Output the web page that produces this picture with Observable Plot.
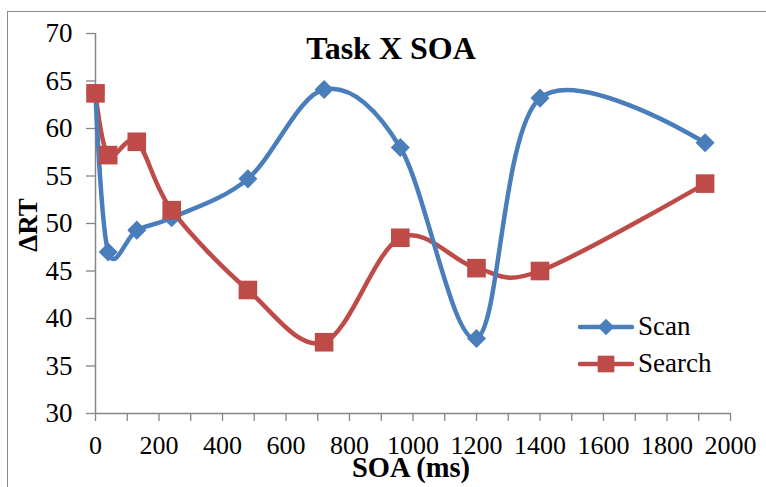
<!DOCTYPE html>
<html>
<head>
<meta charset="utf-8">
<script src="https://cdn.jsdelivr.net/npm/d3@7"></script>
<script src="https://cdn.jsdelivr.net/npm/@observablehq/plot@0.6"></script>
<style>
  html, body { margin: 0; padding: 0; background: #fff; }
  body { width: 766px; height: 487px; overflow: hidden; position: relative; font-family: "Liberation Serif", "Times New Roman", serif; }
  #frame { position: absolute; left: 7px; top: 11px; width: 820px; height: 520px; border: 1.5px solid #8a8a8a; box-sizing: border-box; }
  #chart { position: absolute; left: 0; top: 0; }
  .title { position: absolute; left: 391px; top: 30px; transform: translateX(-50%); font-weight: bold; font-size: 32px; white-space: nowrap; line-height: 1.15; }
  .ylabel { position: absolute; left: 28px; top: 225px; transform: translate(-50%, -50%) rotate(-90deg); font-weight: bold; font-size: 27px; white-space: nowrap; }
  .xlabel { position: absolute; left: 411px; top: 461px; transform: translateX(-50%); font-weight: bold; font-size: 28.5px; white-space: nowrap; line-height: 0.5; }
  #legend { position: absolute; left: 578px; top: 308px; }
  .leg-row { display: flex; align-items: center; height: 37px; font-size: 27px; }
  .leg-row svg { margin-right: 4px; }
</style>
</head>
<body>
<div id="frame"></div>
<div id="chart"></div>
<div class="title">Task X SOA</div>
<div class="ylabel">ΔRT</div>
<div class="xlabel">SOA (ms)</div>
<div id="legend"></div>
<script>
const soa = [0, 40, 130, 240, 480, 720, 960, 1200, 1400, 1920];
const scan = [63.6, 47.0, 49.3, 50.6, 54.7, 64.1, 58.0, 37.9, 63.2, 58.5];
const search = [63.7, 57.2, 58.6, 51.4, 43.0, 37.5, 48.5, 45.3, 45.0, 54.2];
const seriesNames = ["Scan", "Search"];
const seriesColors = ["#4A7EBB", "#BE4B48"];
const xTicks = [0, 200, 400, 600, 800, 1000, 1200, 1400, 1600, 1800, 2000];
const xMinorTicks = [100, 300, 500, 700, 900, 1100, 1300, 1500, 1700, 1900];
const yTicks = [30, 35, 40, 45, 50, 55, 60, 65, 70];

const scanData = soa.map((s, i) => ({soa: s, v: scan[i]}));
const searchData = soa.map((s, i) => ({soa: s, v: search[i]}));

const axisColor = "#868686";
const font = "Liberation Serif, Times New Roman, serif";

const chart = Plot.plot({
  width: 766,
  height: 487,
  marginLeft: 95,
  marginRight: 36,
  marginTop: 33,
  marginBottom: 74,
  style: {fontFamily: font, fontSize: "26px", color: "#000", background: "transparent", overflow: "visible"},
  x: {type: "linear", domain: [0, 2000]},
  y: {type: "linear", domain: [30, 70]},
  marks: [
    Plot.axisX({ticks: xTicks, tickFormat: d3.format("d"), tickSize: 8, tickPadding: 14, fontSize: 26, label: null, stroke: axisColor, strokeWidth: 1.3, fill: "#000"}),
    Plot.axisX({ticks: xMinorTicks, tickFormat: () => "", tickSize: 8, label: null, stroke: axisColor, strokeWidth: 1.3}),
    Plot.axisY({ticks: yTicks, tickSize: 9, tickPadding: 14, fontSize: 27, label: null, stroke: axisColor, strokeWidth: 1.3, fill: "#000"}),
    Plot.ruleX([0], {stroke: axisColor, strokeWidth: 1.5}),
    Plot.ruleY([30], {stroke: axisColor, strokeWidth: 1.5}),
    Plot.line(searchData, {x: "soa", y: "v", stroke: seriesColors[1], strokeWidth: 4.5, curve: "cardinal", tension: 0}),
    Plot.line(scanData, {x: "soa", y: "v", stroke: seriesColors[0], strokeWidth: 4.5, curve: "cardinal", tension: 0}),
    Plot.dot(scanData, {x: "soa", y: "v", symbol: "diamond2", r: 8.6, fill: seriesColors[0], stroke: null}),
    Plot.dot(searchData, {x: "soa", y: "v", symbol: "square", r: 10.5, fill: seriesColors[1], stroke: null})
  ]
});
document.getElementById("chart").appendChild(chart);

// legend
const leg = document.getElementById("legend");
const symbols = [d3.symbolDiamond2, d3.symbolSquare];
const sizes = [Math.PI * 8.6 * 8.6 * 0.75, Math.PI * 10.5 * 10.5 * 0.8];
seriesNames.forEach((name, i) => {
  const row = document.createElement("div");
  row.className = "leg-row";
  const svg = d3.create("svg").attr("width", 56).attr("height", 24);
  svg.append("line").attr("x1", 2).attr("x2", 54).attr("y1", 12).attr("y2", 12)
    .attr("stroke", seriesColors[i]).attr("stroke-width", 4.5).attr("stroke-linecap", "round");
  svg.append("path").attr("d", d3.symbol(symbols[i], sizes[i])()).attr("transform", "translate(28,12)")
    .attr("fill", seriesColors[i]);
  row.appendChild(svg.node());
  const t = document.createElement("span");
  t.textContent = name;
  row.appendChild(t);
  leg.appendChild(row);
});
</script>
</body>
</html>
